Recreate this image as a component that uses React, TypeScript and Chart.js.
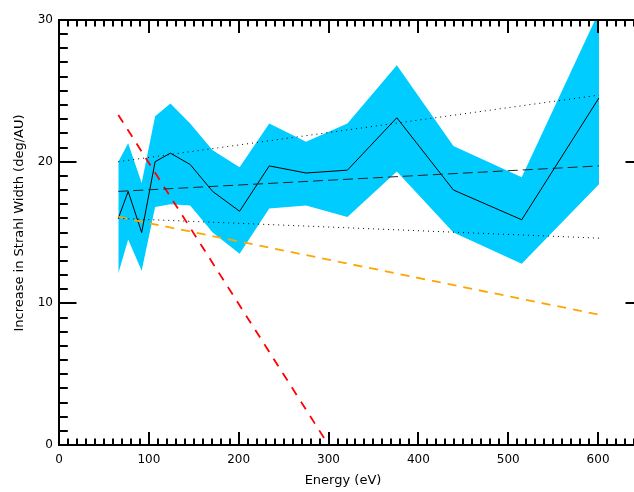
import { useEffect, useRef } from "react";
import { Chart, registerables } from "chart.js";

Chart.register(...registerables);

// ---- Data ----
const energy = [66, 77, 92, 107, 124, 146, 171, 201, 234, 275, 321, 376, 439, 515, 601];
const meanWidth = [16.0, 17.9, 15.0, 20.0, 20.6, 19.8, 17.9, 16.5, 19.7, 19.2, 19.4, 23.1, 18.0, 15.9, 24.5];
const upperWidth = [20.0, 21.3, 18.5, 23.2, 24.1, 22.7, 20.8, 19.6, 22.7, 21.4, 22.7, 26.8, 21.1, 18.9, 30.6];
const lowerWidth = [12.1, 14.5, 12.3, 16.8, 17.0, 16.9, 15.0, 13.5, 16.7, 16.9, 16.1, 19.3, 15.0, 12.8, 18.4];

const fitEnergy = [66, 601];
const fitUpperDotted = [20.0, 24.7];
const fitBlackDashed = [17.9, 19.7];
const fitLowerDotted = [16.0, 14.6];
const fitOrange = [16.1, 9.2];

const redEnergy = [66, 300];
const fitRed = [23.3, 0];

const xTickValues = [0, 100, 200, 300, 400, 500, 600];
const yTickValues = [0, 10, 20, 30];
const X_MIN = 0;
const X_MAX = 650;
const Y_MIN = 0;
const Y_MAX = 30;

const xTitle = "Energy (eV)";
const yTitle = "Increase in Strahl Width (deg/AU)";

const FONT = '"DejaVu Sans", "Liberation Sans", sans-serif';

function pts(xs: number[], ys: number[]) {
  return xs.map((x, i) => ({ x, y: ys[i] }));
}

export default function App() {
  const ref = useRef<HTMLCanvasElement>(null);

  useEffect(() => {
    const canvas = ref.current;
    if (!canvas) return;

    const framePlugin = {
      id: "idlFrame",
      afterDraw(chart: any) {
        const { ctx, chartArea: a, scales } = chart;
        const xs = scales.x;
        const ys = scales.y;
        ctx.save();
        ctx.strokeStyle = "#000";
        ctx.lineWidth = 2;
        const seg = (x1: number, y1: number, x2: number, y2: number) => {
          ctx.beginPath();
          ctx.moveTo(x1, y1);
          ctx.lineTo(x2, y2);
          ctx.stroke();
        };
        const L = Math.round(a.left);
        const R = Math.round(a.right);
        const T = Math.round(a.top);
        const B = Math.round(a.bottom);
        seg(L, T - 1, L, B + 1);
        seg(R, T - 1, R, B + 1);
        seg(L - 1, T, R + 1, T);
        seg(L - 1, B, R + 1, B);
        for (let v = X_MIN; v <= X_MAX; v += 10) {
          const px = Math.round(xs.getPixelForValue(v));
          const len = v % 100 === 0 ? 13 : 6.5;
          seg(px, B, px, B - len);
          seg(px, T, px, T + len);
        }
        for (let v = Y_MIN; v <= Y_MAX; v += 1) {
          const py = Math.round(ys.getPixelForValue(v));
          const len = v % 10 === 0 ? 17.5 : 8.8;
          seg(L, py, L + len, py);
          seg(R, py, R - len, py);
        }
        // axis titles
        ctx.fillStyle = "#000";
        ctx.font = `13px ${FONT}`;
        ctx.textAlign = "center";
        ctx.textBaseline = "middle";
        ctx.fillText(xTitle, 343, 481);
        ctx.translate(20, 223);
        ctx.rotate(-Math.PI / 2);
        ctx.fillText(yTitle, 0, 0);
        ctx.restore();
      },
    };

    const line = (
      xs: number[],
      ys: number[],
      color: string,
      width: number,
      dash: number[]
    ) => ({
      data: pts(xs, ys),
      borderColor: color,
      borderWidth: width,
      borderDash: dash,
      pointRadius: 0,
      fill: false,
      tension: 0,
      order: 0,
    });

    const chart = new Chart(canvas, {
      type: "line",
      data: {
        datasets: [
          {
            data: pts(energy, upperWidth),
            borderWidth: 0,
            borderColor: "rgba(0,0,0,0)",
            backgroundColor: "#00CCFF",
            pointRadius: 0,
            fill: 1,
            tension: 0,
            order: 10,
          },
          {
            data: pts(energy, lowerWidth),
            borderWidth: 0,
            borderColor: "rgba(0,0,0,0)",
            backgroundColor: "#00CCFF",
            pointRadius: 0,
            fill: false,
            tension: 0,
            order: 10,
          },
          line(fitEnergy, fitUpperDotted, "#000", 1, [1, 4]),
          line(fitEnergy, fitLowerDotted, "#000", 1, [1, 4]),
          line(fitEnergy, fitBlackDashed, "#222", 1, [10, 5]),
          line(fitEnergy, fitOrange, "#FFA500", 1.8, [9, 7]),
          line(redEnergy, fitRed, "#FF0000", 1.8, [9, 8]),
          line(energy, meanWidth, "#000", 1, []),
        ] as any,
      },
      options: {
        animation: false,
        responsive: false,
        devicePixelRatio: 1,
        events: [],
        layout: { padding: { top: 20, left: 0, right: 0, bottom: 0 } },
        plugins: {
          legend: { display: false },
          tooltip: { enabled: false },
          title: { display: false },
        },
        scales: {
          x: {
            type: "linear",
            min: X_MIN,
            max: X_MAX,
            grid: { display: false, drawTicks: false },
            border: { display: false },
            afterBuildTicks: (scale: any) => {
              scale.ticks = xTickValues.map((value) => ({ value }));
            },
            afterFit: (scale: any) => {
              scale.height = 47;
            },
            ticks: {
              color: "#000",
              font: { family: FONT, size: 12 },
              padding: 8,
              maxRotation: 0,
              autoSkip: false,
            },
          },
          y: {
            type: "linear",
            min: Y_MIN,
            max: Y_MAX,
            grid: { display: false, drawTicks: false },
            border: { display: false },
            afterBuildTicks: (scale: any) => {
              scale.ticks = yTickValues.map((value) => ({ value }));
            },
            afterFit: (scale: any) => {
              scale.width = 59;
            },
            ticks: {
              color: "#000",
              font: { family: FONT, size: 12 },
              padding: 6,
              autoSkip: false,
            },
          },
        },
      } as any,
      plugins: [framePlugin],
    });

    return () => chart.destroy();
  }, []);

  return (
    <div
      style={{
        position: "absolute",
        left: 0,
        top: 0,
        width: 634,
        height: 492,
        overflow: "hidden",
        background: "#fff",
      }}
    >
      <canvas ref={ref} width={643} height={492} style={{ display: "block" }} />
    </div>
  );
}
